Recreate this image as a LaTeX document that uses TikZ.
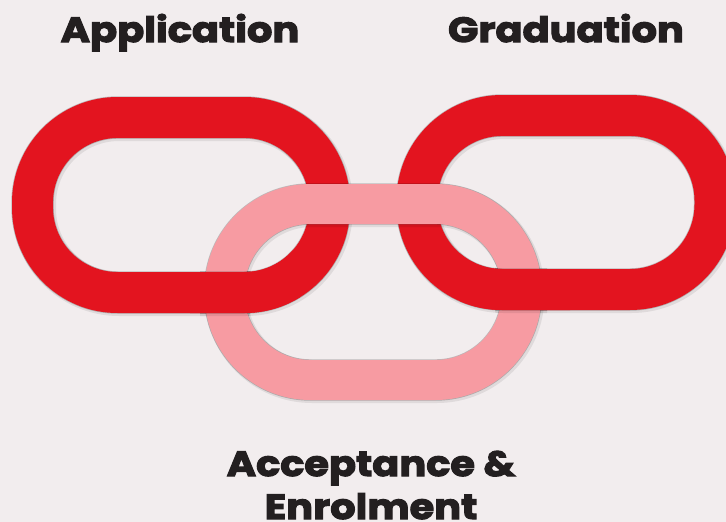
\documentclass[tikz,border=0pt]{standalone}
\usepackage{fontspec}
\setmainfont[BoldFeatures={FakeBold=3.2,FakeStretch=1.14}]{Poppins}
\definecolor{bggray}{HTML}{F2EDEE}
\definecolor{linkred}{HTML}{E3141F}
\definecolor{linkpink}{HTML}{F79BA2}
\definecolor{inkdark}{HTML}{231F20}
\tikzset{
  link/.style={line join=round, line width=#1},
  link/.default=41pt,
  caption/.style={font=\bfseries\fontsize{35}{44}\selectfont, text=inkdark, align=center, inner sep=0pt, anchor=base},
}
% shadow and rim of one chain link
\newcommand{\linkrim}[6]{%
  \draw[link=#5+3pt, black, opacity=.08, shift={(1.5,1.5)}, rounded corners=#6] (#1,#2) rectangle (#3,#4);
  \draw[link=#5+1.4pt, black, opacity=.22, rounded corners=#6] (#1,#2) rectangle (#3,#4);
}
\newcommand{\leftrect}{(32.5,117.5) rectangle (329.5,292.5)}
\newcommand{\rightrect}{(417,115.5) rectangle (715,289.5)}
\begin{document}
\begin{tikzpicture}[x=1pt, y=-1pt]
  \useasboundingbox (0,0) rectangle (726,522);
  \fill[bggray] (0,0) rectangle (726,522);

  % red links
  \linkrim{32.5}{117.5}{329.5}{292.5}{41pt}{85pt}
  \draw[link, linkred, rounded corners=85pt] \leftrect;
  \linkrim{417}{115.5}{715}{289.5}{41pt}{85pt}
  \draw[link, linkred, rounded corners=85pt] \rightrect;

  % pink link on top
  \linkrim{224.5}{204}{521.5}{380}{40pt}{86pt}
  \draw[link=40pt, linkpink, rounded corners=86pt] (224.5,204) rectangle (521.5,380);

  % red again where it passes over the pink link
  \begin{scope}
    \clip (200,255) rectangle (250,330);
    \linkrim{32.5}{117.5}{329.5}{292.5}{41pt}{85pt}
  \end{scope}
  \begin{scope}
    \clip (190,250) rectangle (300,330);
    \draw[link, linkred, rounded corners=85pt] \leftrect;
  \end{scope}
  \begin{scope}
    \clip (495,255) rectangle (547,330);
    \linkrim{417}{115.5}{715}{289.5}{41pt}{85pt}
  \end{scope}
  \begin{scope}
    \clip (460,250) rectangle (570,330);
    \draw[link, linkred, rounded corners=85pt] \rightrect;
  \end{scope}

  \node[caption] (application) at (180,42) {Application};
  \node[caption] (graduation) at (566,42) {Graduation};
  \node[caption] (acceptance) at (371,476) {Acceptance \&};
  \node[caption] (enrolment) at (371,519) {Enrolment};
\end{tikzpicture}
\end{document}
